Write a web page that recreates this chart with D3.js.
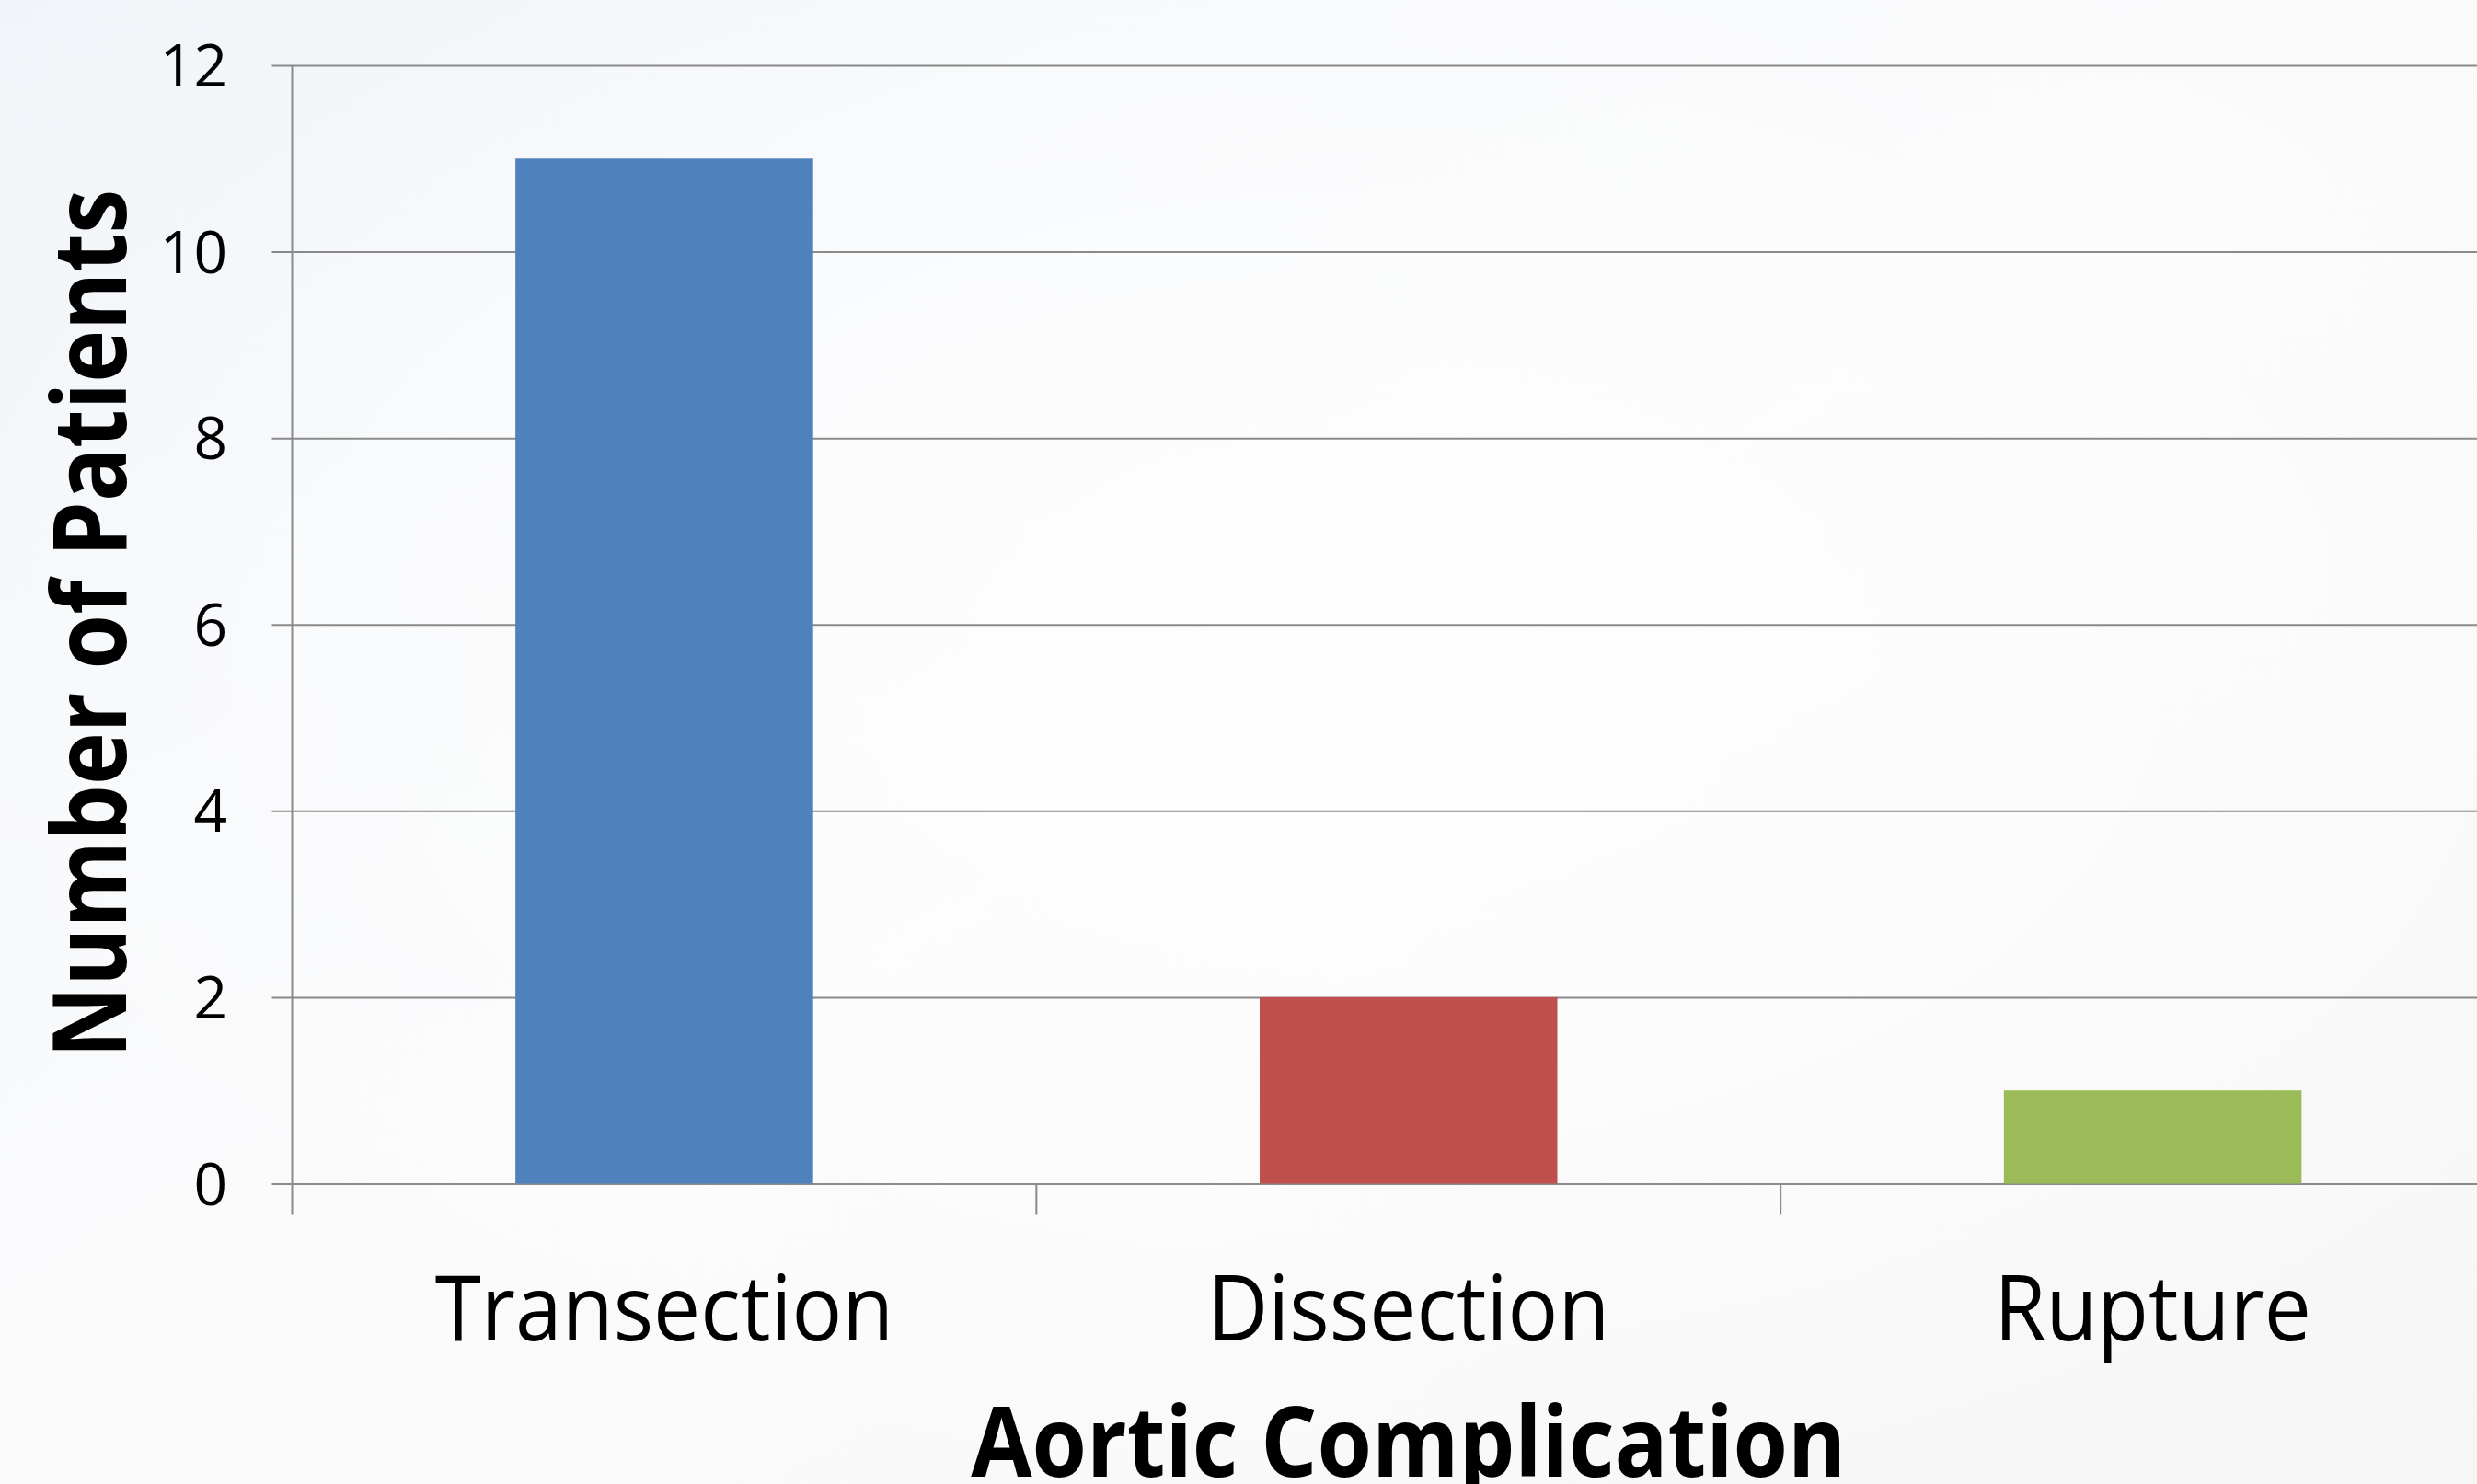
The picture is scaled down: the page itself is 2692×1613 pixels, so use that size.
<!DOCTYPE html>
<html>
<head>
<meta charset="utf-8">
<script src="https://cdn.jsdelivr.net/npm/d3@7"></script>
<style>
  html, body { margin: 0; padding: 0; overflow: hidden; background: #f7f8f9; }
  svg { display: block; }
  text { font-family: "Open Sans", "Noto Sans", sans-serif; fill: #000; }
</style>
</head>
<body>
<svg id="chart" width="2692" height="1613"></svg>
<script>
// data
const categories = ['Transection', 'Dissection', 'Rupture'];
const patients = [11, 2, 1];
const barColors = ['#4f81bd', '#c0504d', '#9bbb59'];
const yTicks = [0, 2, 4, 6, 8, 10, 12];
const yTitle = 'Number of Patients';
const xTitle = 'Aortic Complication';

const svg = d3.select('#chart');
const width = +svg.attr('width');
const height = +svg.attr('height');

// the plot runs off the right edge of the picture
const plot = { left: 317.5, right: 2744, top: 71, bottom: 1286.5 };
const gridColor = '#8a8a8a';
// calibri is narrower than what we have, so squeeze the glyphs a bit
const squeeze = 0.93;

const defs = svg.append('defs');
const bg = defs.append('linearGradient')
    .attr('id', 'bg')
    .attr('x1', '0').attr('y1', '0')
    .attr('x2', '1').attr('y2', '1');
bg.append('stop').attr('offset', '0').attr('stop-color', '#f1f5f9');
bg.append('stop').attr('offset', '0.5').attr('stop-color', '#fbfbfc');
bg.append('stop').attr('offset', '1').attr('stop-color', '#f6f6f6');
const glow = defs.append('radialGradient')
    .attr('id', 'glow')
    .attr('cx', '0.55').attr('cy', '0.45').attr('r', '0.6');
glow.append('stop').attr('offset', '0').attr('stop-color', '#ffffff').attr('stop-opacity', 0.9);
glow.append('stop').attr('offset', '1').attr('stop-color', '#ffffff').attr('stop-opacity', 0);

svg.append('rect').attr('width', width).attr('height', height).attr('fill', 'url(#bg)');
svg.append('rect').attr('width', width).attr('height', height).attr('fill', 'url(#glow)');

const x = d3.scaleBand()
    .domain(categories)
    .range([plot.left, plot.right])
    .padding(0);

const xBar = d3.scaleBand()
    .domain(categories)
    .range([plot.left, plot.right])
    .paddingInner(0.6)
    .paddingOuter(0.3);

const y = d3.scaleLinear()
    .domain([0, 12])
    .range([plot.bottom, plot.top]);

// gridlines, drawn leftwards from the right end so they poke out past the axis
const yAxis = d3.axisLeft(y)
    .tickValues(yTicks)
    .tickSize(plot.right - plot.left + 22)
    .tickFormat('');

const gy = svg.append('g')
    .attr('class', 'y-axis')
    .attr('transform', `translate(${plot.right},0)`)
    .call(yAxis);
gy.select('.domain').remove();
gy.selectAll('.tick line')
    .attr('stroke', gridColor)
    .attr('stroke-width', 2);
gy.selectAll('.tick text').remove();

svg.append('g')
    .attr('class', 'y-labels')
    .selectAll('text')
    .data(yTicks)
    .enter()
    .append('text')
    .attr('x', 247)
    .attr('y', d => y(d))
    .attr('dy', '0.36em')
    .attr('text-anchor', 'end')
    .attr('font-size', 64)
    .text(d => d);

svg.append('line')
    .attr('x1', plot.left).attr('x2', plot.left)
    .attr('y1', plot.top).attr('y2', plot.bottom + 34)
    .attr('stroke', gridColor)
    .attr('stroke-width', 2);

// bars
svg.append('g')
    .attr('class', 'bars')
    .selectAll('rect')
    .data(categories)
    .enter()
    .append('rect')
    .attr('x', d => xBar(d))
    .attr('width', xBar.bandwidth())
    .attr('y', (d, i) => y(patients[i]))
    .attr('height', (d, i) => y(0) - y(patients[i]))
    .attr('fill', (d, i) => barColors[i]);

// x axis with ticks between the categories
const gx = svg.append('g')
    .attr('class', 'x-axis')
    .attr('transform', `translate(0,${plot.bottom})`);
gx.selectAll('line.sep')
    .data(categories.slice(1))
    .enter()
    .append('line')
    .attr('class', 'sep')
    .attr('x1', d => x(d)).attr('x2', d => x(d))
    .attr('y1', 0).attr('y2', 34)
    .attr('stroke', gridColor)
    .attr('stroke-width', 2);

const squeezeText = function() {
    const t = d3.select(this);
    const len = this.getComputedTextLength();
    t.attr('textLength', len * squeeze).attr('lengthAdjust', 'spacingAndGlyphs');
};

svg.append('g')
    .attr('class', 'x-labels')
    .selectAll('text')
    .data(categories)
    .enter()
    .append('text')
    .attr('x', d => x(d) + x.bandwidth() / 2)
    .attr('y', 1457)
    .attr('text-anchor', 'middle')
    .attr('font-size', 98)
    .text(d => d)
    .each(squeezeText);

// axis titles
svg.append('text')
    .attr('class', 'x-title')
    .attr('x', (plot.left + plot.right) / 2)
    .attr('y', 1605)
    .attr('text-anchor', 'middle')
    .attr('font-size', 106)
    .attr('font-weight', 'bold')
    .text(xTitle)
    .each(function() {
        d3.select(this).attr('textLength', 951).attr('lengthAdjust', 'spacingAndGlyphs');
    });

svg.append('text')
    .attr('class', 'y-title')
    .attr('transform', 'translate(137,678) rotate(-90)')
    .attr('text-anchor', 'middle')
    .attr('font-size', 112)
    .attr('font-weight', 'bold')
    .text(yTitle)
    .each(function() {
        d3.select(this).attr('textLength', 944).attr('lengthAdjust', 'spacingAndGlyphs');
    });
</script>
</body>
</html>
